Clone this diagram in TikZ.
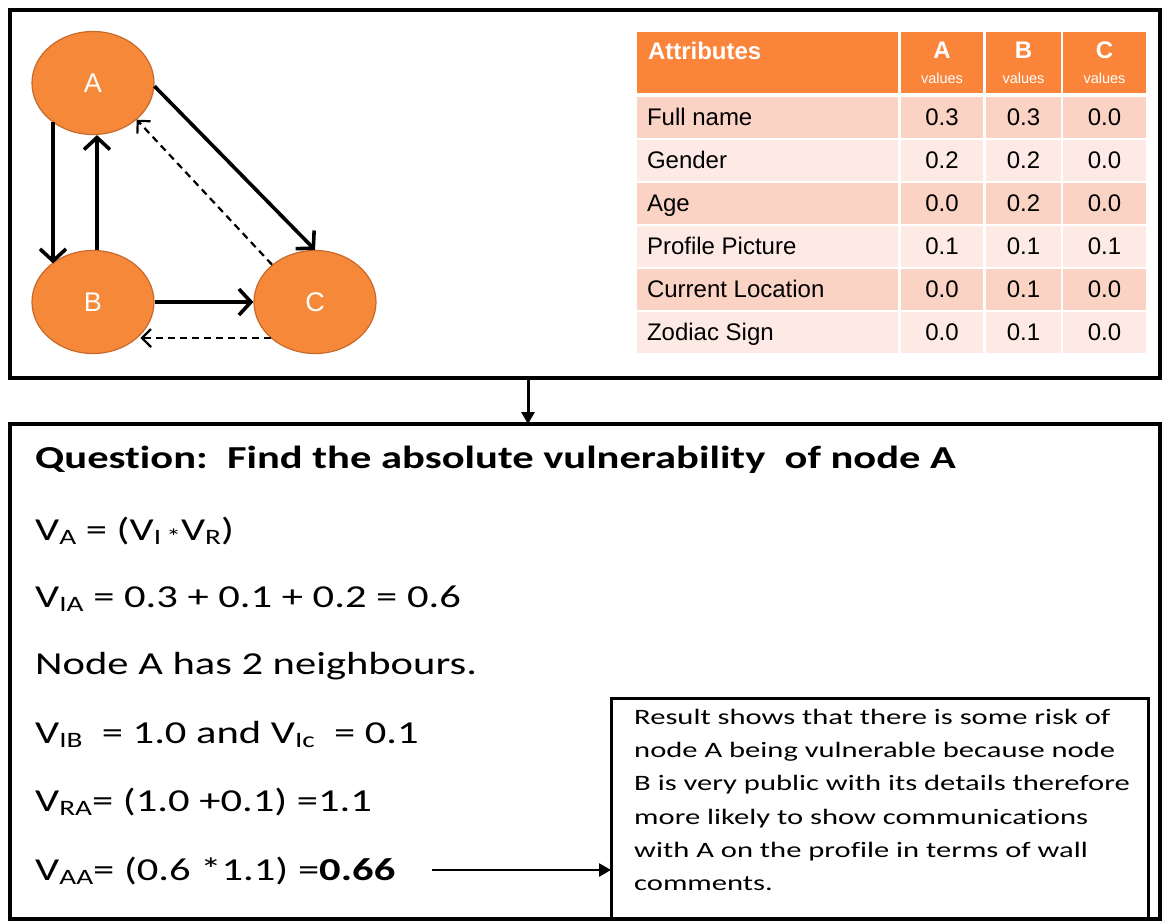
\documentclass[tikz,border=0pt]{standalone}
\usepackage{fontspec}
\setmainfont{Carlito}[FakeStretch=1.33, Ligatures={NoCommon}]
\newfontfamily\arial{Liberation Sans}
\newfontfamily\rfont{Carlito}[FakeStretch=1.39, Ligatures={NoCommon}]
\usetikzlibrary{arrows.meta,shapes.geometric}
\definecolor{orng}{HTML}{F6883A}
\definecolor{orngd}{HTML}{C8692A}
\definecolor{hdr}{HTML}{F9843A}
\definecolor{rowa}{HTML}{FBD3C5}
\definecolor{rowb}{HTML}{FDEAE4}
\newcommand\lo[1]{\raisebox{-0.3ex}{\fontsize{22}{22}\selectfont #1}}
\tikzset{
  frame/.style={draw, line width=3.5pt, inner sep=0pt, outer sep=0pt},
  gnode/.style={ellipse, fill=orng, draw=orngd, line width=1.2pt, minimum width=122pt, minimum height=103pt, inner sep=0pt, text=white, font=\arial\fontsize{27}{27}\selectfont},
  sol/.style={line width=3.6pt, -{Straight Barb[length=12pt,width=26pt,line width=3.6pt]}},
  dsh/.style={line width=2.2pt, dash pattern=on 7pt off 5pt, -{Straight Barb[length=9pt,width=18pt,line width=2.2pt]}},
  conn/.style={line width=3pt, -{Triangle[length=12pt,width=13pt]}},
  cell/.style={inner sep=0pt, outer sep=0pt, font=\arial\fontsize{24}{24}\selectfont},
  eq/.style={anchor=base west, inner sep=0pt, font=\fontsize{32}{32}\selectfont},
}
\begin{document}
\begin{tikzpicture}[x=1pt,y=-1pt]
\useasboundingbox (0,0) rectangle (1163,922);
\fill[white] (0,0) rectangle (1163,922);
% frames
\node[frame, minimum width=1150pt, minimum height=368pt] (top) at (585,194) {};
\node[frame, minimum width=1150pt, minimum height=495pt] (bot) at (585,671.5) {};
\coordinate (kx) at (528,0);
\draw[conn] (top.south -| kx) -- (bot.north -| kx);
% graph
\node[gnode] (A) at (93,83) {A};
\node[gnode] (B) at (93,302) {B};
\node[gnode] (C) at (315,302) {C};
\coordinate (lx) at (53,0);
\draw[sol] (A.224 -| lx) -- (B.137 -| lx);
\draw[sol] ([xshift=4pt]B.north) -- ([xshift=4pt]A.south);
\draw[sol] (A.-3) -- (C.north);
\draw[dsh] (C.139) -- (A.-40);
\draw[sol] (B.east) -- (C.west);
\draw[dsh] (C.219) -- (B.325 |- C.219);
% table
\fill[hdr] (637,32) rectangle (898,93);
\fill[hdr] (901,32) rectangle (983,93);
\fill[hdr] (986,32) rectangle (1061,93);
\fill[hdr] (1063,32) rectangle (1146,93);
\node[cell, anchor=west, text=white, font=\arial\bfseries\fontsize{24}{24}\selectfont] (hatt) at (648,51) {Attributes};
\foreach \c/\x in {A/942,B/1023.5,C/1104.5}{
  \node[cell, text=white, font=\arial\bfseries\fontsize{24}{24}\selectfont] (h\c) at (\x,50) {\c};
  \node[cell, text=white, font=\arial\fontsize{14.5}{15}\selectfont] (v\c) at (\x,78) {values};
}
\foreach \i/\name/\a/\b/\cc in {0/Full name/0.3/0.3/0.0, 1/Gender/0.2/0.2/0.0, 2/Age/0.0/0.2/0.0, 3/Profile Picture/0.1/0.1/0.1, 4/Current Location/0.0/0.1/0.0, 5/Zodiac Sign/0.0/0.1/0.0}{
  \pgfmathsetmacro\tp{97+43*\i}
  \pgfmathsetmacro\bt{\tp+40.5}
  \pgfmathsetmacro\md{\tp+20}
  \pgfmathparse{mod(\i,2)==0 ? "rowa" : "rowb"}
  \edef\rc{\pgfmathresult}
  \fill[\rc] (637,\tp) rectangle (898,\bt);
  \fill[\rc] (901,\tp) rectangle (983,\bt);
  \fill[\rc] (986,\tp) rectangle (1061,\bt);
  \fill[\rc] (1063,\tp) rectangle (1146,\bt);
  \node[cell, anchor=base west] (n\i) at (647,\md+8.5) {\name};
  \node[cell, anchor=base] (a\i) at (942,\md+8.5) {\a};
  \node[cell, anchor=base] (b\i) at (1023.5,\md+8.5) {\b};
  \node[cell, anchor=base] (c\i) at (1104.5,\md+8.5) {\cc};
}
% bottom text
\node[eq, font=\bfseries\fontsize{32}{32}\selectfont] (q) at (35,468) {Quest\kern0pt ion:\ \ Find\ the\ absolute\ vulnerability\ \ of\ node\ A};
\node[eq] (l1) at (35,540) {V\lo{A} = (V\lo{I}\,\lo{*}V\lo{R})};
\node[eq] (l2) at (35,607) {V\lo{IA} = 0.3 + 0.1 + 0.2 = 0.6};
\node[eq] (l3) at (35,674) {Node A has 2 neighbours.};
\node[eq] (l4) at (35,743) {V\lo{IB}\ \ = 1.0 and V\lo{Ic}\ \ = 0.1};
\node[eq] (l5) at (35,811) {V\lo{RA}= (1.0 +0.1) =1.1};
\node[eq] (l6) at (35,880) {V\lo{AA}= (0.6 *1.1) =\textbf{0.66}};
% result box
\node[frame, line width=3pt, minimum width=537pt, minimum height=221pt] (res) at (879.5,808.5) {};
\node[anchor=north west, inner sep=0pt, align=left, font=\rfont\fontsize{22}{33.2}\selectfont] (rt) at (634,709)
{Result shows that there is some risk of\\
node A being vulnerable because node\\
B is very public with its details therefore\\
more likely to show communications\\
with A on the profile in terms of wall\\
comments.};
\coordinate (s) at (432,870);
\draw[conn, line width=2.5pt] (s) -- (s -| res.west);
\end{tikzpicture}
\end{document}
